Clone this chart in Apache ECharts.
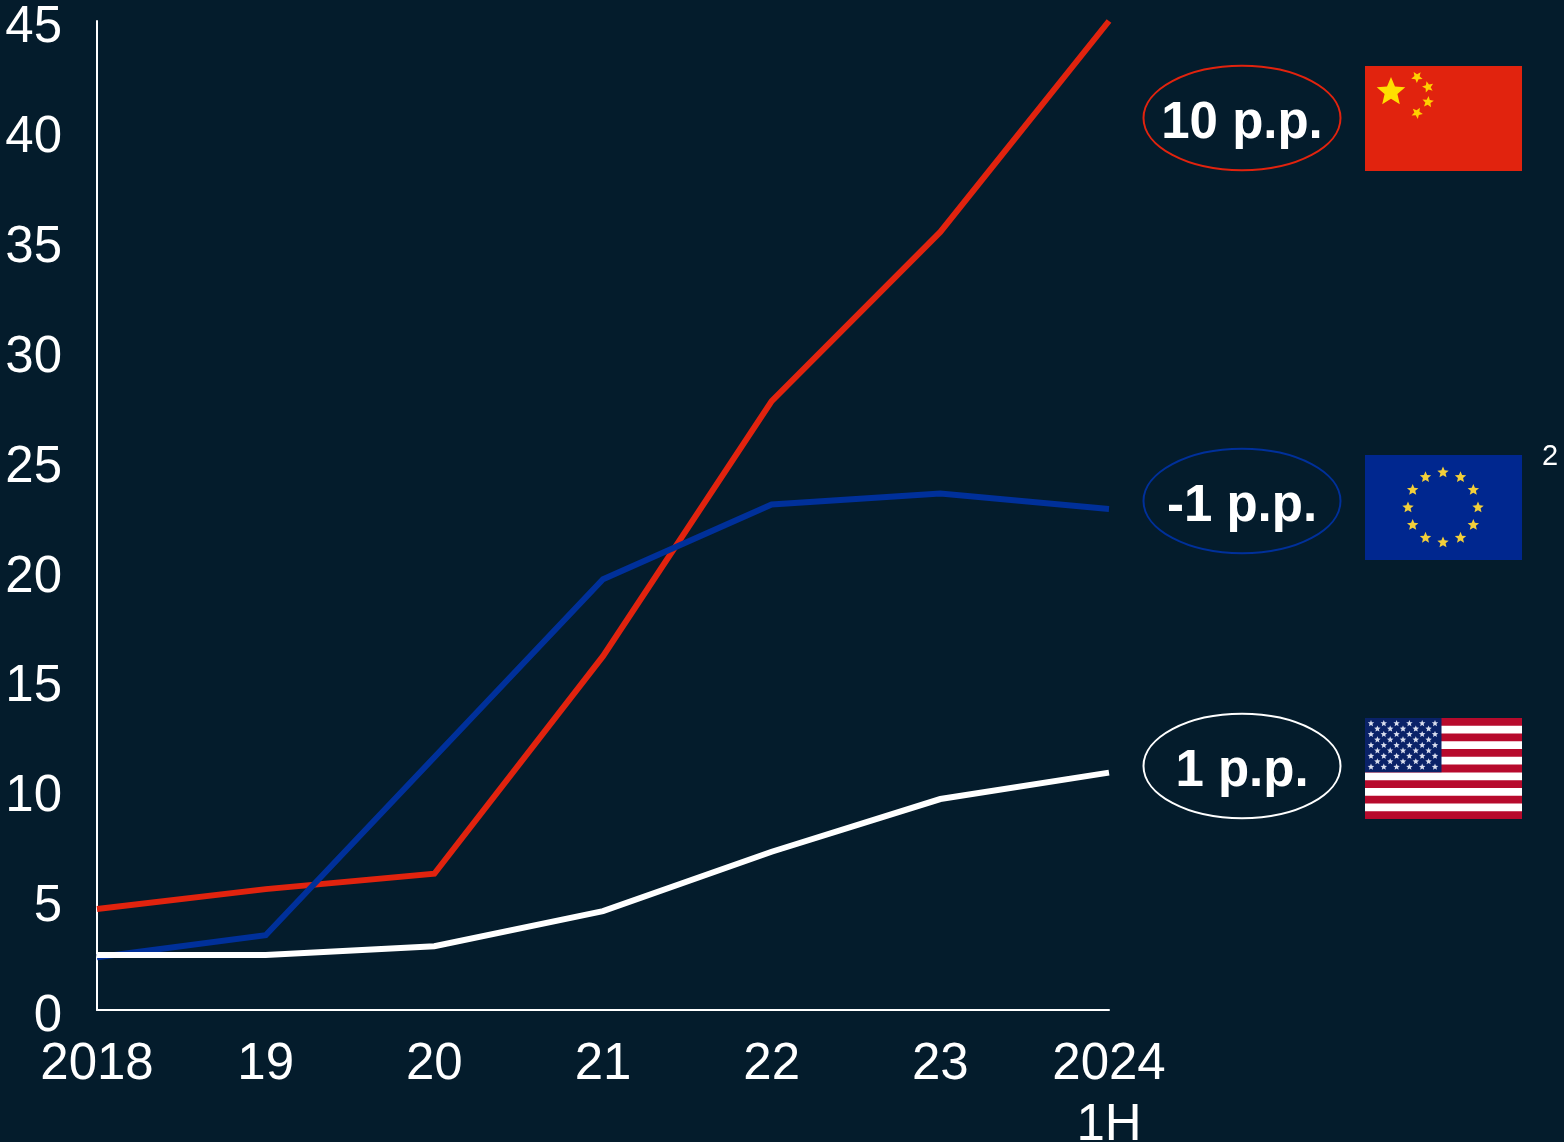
<!DOCTYPE html>
<html><head><meta charset="utf-8">
<style>html,body{margin:0;padding:0;background:#041C2C}#c{width:1564px;height:1142px}</style>
<script src="https://cdn.jsdelivr.net/npm/echarts@6/dist/echarts.min.js"></script>
</head><body><div id="c"></div>
<script>
const categories = ['2018','19','20','21','22','23','2024\n1H'];
const china = [4.6,5.5,6.2,16.1,27.7,35.4,45];
const eu = [2.4,3.4,11.5,19.6,23.0,23.5,22.8];
const us = [2.5,2.5,2.9,4.5,7.2,9.6,10.8];
const chinaLabel = '10 p.p.';
const euLabel = '-1 p.p.';
const usLabel = '1 p.p.';
const BG='#041C2C', RED='#E1230E', BLUE='#00309A', WHITE='#FFFFFF', FONT='"Liberation Sans", Arial, sans-serif';

function star(cx,cy,r,fill,rot){
  const pts=[];const a0=-Math.PI/2+(rot||0);
  for(let i=0;i<10;i++){const R=i%2?r*0.45:r;const a=a0+i*Math.PI/5;pts.push([cx+R*Math.cos(a),cy+R*Math.sin(a)]);}
  return {type:'polygon',shape:{points:pts},style:{fill:fill},z:6,silent:true};
}
function rect(x,y,w,h,fill,z){return {type:'rect',shape:{x,y,width:w,height:h},style:{fill},z:z||5,silent:true};}
function pill(cy,color,label,ty){
  return [
    {type:'ellipse',shape:{cx:1242,cy:cy,rx:98.5,ry:52.3},style:{fill:'transparent',stroke:color,lineWidth:2},z:5,silent:true},
    {type:'text',x:1242,y:ty,style:{text:label,fill:WHITE,font:'bold 51px '+FONT,align:'center',verticalAlign:'middle'},z:6,silent:true}
  ];
}
const g=[];
g.push(...pill(118,RED,chinaLabel,124),...pill(501,BLUE,euLabel,507),...pill(766,WHITE,usLabel,772));
// China flag
g.push(rect(1365,66,157,105,RED));
g.push(star(1391,92,15,'#FFDE00'));
[[1417,77,-0.6],[1428,87,-0.25],[1428,102,0.1],[1417,113,0.5]].forEach(s=>g.push(star(s[0],s[1],6,'#FFCF00',s[2])));
// EU flag
g.push(rect(1365,455,157,105,'#00278F'));
for(let i=0;i<12;i++){const a=i*Math.PI/6;g.push(star(1443+35*Math.sin(a),507.5-35*Math.cos(a),6,'#F2CF3A'));}
// US flag
const sh=101/13;
g.push(rect(1365,718,157,101,WHITE));
for(let i=0;i<13;i+=2)g.push(rect(1365,718+i*sh,157,sh,'#B70A2C'));
g.push(rect(1365,718,76.5,54.3,'#0A2268',5.5));
for(let r=0;r<9;r++){
  const n=r%2?5:6;
  for(let c=0;c<n;c++){
    g.push(star(1371+(r%2?6.4:0)+c*12.8,723.4+r*5.45,3.4,'#D9DEEE'));
  }
}
g.push({type:'text',x:1550,y:457,style:{text:'2',fill:WHITE,font:'29px '+FONT,align:'center',verticalAlign:'middle'},z:6,silent:true});

const mk=(name,data,color,z)=>({name,type:'line',data,symbol:'none',z,
  lineStyle:{color,width:6,cap:'butt',join:'miter'},clip:false,animation:false});
const chart=echarts.init(document.getElementById('c'),null,{renderer:'canvas'});
chart.setOption({
  animation:false,backgroundColor:BG,
  grid:{left:97,right:455,top:21,bottom:132,outerBoundsMode:'none'},
  xAxis:{type:'category',boundaryGap:false,data:categories,
    axisLine:{lineStyle:{color:WHITE,width:2}},axisTick:{show:false},
    axisLabel:{color:WHITE,fontSize:51,fontFamily:FONT,lineHeight:61,margin:24,interval:0,hideOverlap:false,showMaxLabel:true,showMinLabel:true,alignMinLabel:'center',alignMaxLabel:'center'}},
  yAxis:{type:'value',min:0,max:45,interval:5,
    axisLine:{show:true,lineStyle:{color:WHITE,width:2}},axisTick:{show:false},splitLine:{show:false},
    axisLabel:{color:WHITE,fontSize:51,fontFamily:FONT,margin:35,verticalAlign:'top',lineHeight:14,showMinLabel:true,showMaxLabel:true}},
  series:[mk('China',china,RED,3),mk('EU',eu,BLUE,4),mk('US',us,WHITE,5)],
  graphic:{elements:g}
});
</script></body></html>
